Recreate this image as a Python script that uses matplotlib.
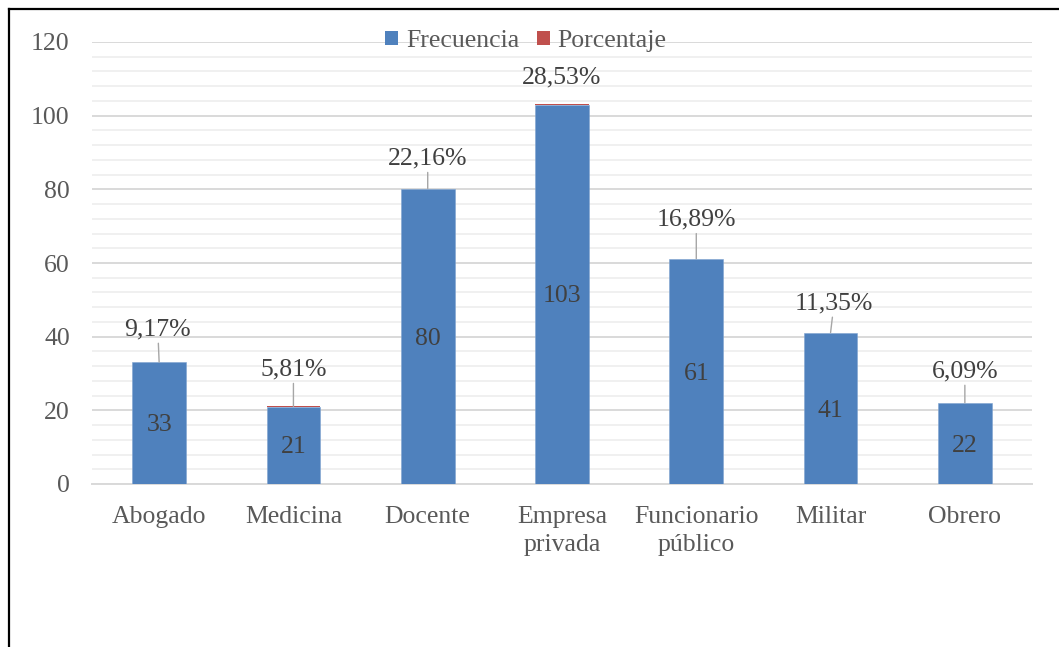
import matplotlib
matplotlib.use("Agg")
import matplotlib.pyplot as plt
from matplotlib.patches import Patch
from matplotlib.lines import Line2D
from matplotlib.ticker import MultipleLocator

# Occupations and their counts / shares
categories = ["Abogado", "Medicina", "Docente", "Empresa\nprivada",
              "Funcionario\npúblico", "Militar", "Obrero"]
frecuencia = [33, 21, 80, 103, 61, 41, 22]
porcentaje = [0.0917, 0.0581, 0.2216, 0.2853, 0.1689, 0.1135, 0.0609]

# Placement of the percentage callouts (points, relative to bar top)
callout_dx = [-1, 0, 0, 0, 0, 2.5, 0]
callout_dy = [23.5, 26.5, 21.5, 19, 28, 21, 22.5]
callout_leader = [True, True, True, False, True, True, True]

BLUE = "#4F81BD"
RED = "#C0504D"
TICK_COLOR = "#595959"
LABEL_COLOR = "#404040"
FONT = ["Liberation Serif", "DejaVu Serif"]
FS = 18.5

plt.rcParams["font.family"] = FONT

W, H, DPI = 1059, 647, 100
fig = plt.figure(figsize=(W / DPI, H / DPI), dpi=DPI)
ax = fig.add_axes([92 / W, 1 - 484 / H, (1032 - 92) / W, (484 - 42) / H])

x = list(range(len(categories)))
bars_f = ax.bar(x, frecuencia, width=0.40, color=BLUE, zorder=3,
                edgecolor="#7FA3D0", linewidth=0.4)
bars_p = ax.bar(x, porcentaje, width=0.40, bottom=frecuencia, color=RED,
                zorder=3, linewidth=0)

# Counts centred inside the blue bars
for i, f in enumerate(frecuencia):
    ax.annotate(str(f), xy=(i, f / 2), xytext=(0, -1.5),
                textcoords="offset points", ha="center", va="center",
                color=LABEL_COLOR, fontsize=FS, family=FONT, zorder=4)

# Percentage callouts with leader lines
for i, (f, p) in enumerate(zip(frecuencia, porcentaje)):
    txt = f"{p * 100:.2f}%".replace(".", ",")
    top = f + p
    arrow = dict(arrowstyle="-", color="#A6A6A6", lw=1.0,
                 shrinkA=0, shrinkB=0) if callout_leader[i] else None
    ax.annotate(txt, xy=(i, top), xytext=(callout_dx[i], callout_dy[i]),
                textcoords="offset points", ha="center", va="center",
                color=LABEL_COLOR, fontsize=FS, family=FONT,
                arrowprops=arrow, zorder=4)

ax.set_xlim(-0.5, len(categories) - 0.5)
ax.set_ylim(0, 120)
ax.yaxis.set_major_locator(MultipleLocator(20))
ax.yaxis.set_minor_locator(MultipleLocator(4))
ax.grid(axis="y", which="major", color="#D9D9D9", lw=1.4, zorder=0)
ax.grid(axis="y", which="minor", color="#F0F0F0", lw=1.4, zorder=0)

for s in ["left", "right", "top"]:
    ax.spines[s].set_visible(False)
ax.spines["bottom"].set_color("#D9D9D9")
ax.spines["bottom"].set_linewidth(1.4)
ax.spines["bottom"].set_zorder(2)

ax.set_xticks(x)
ax.set_xticklabels(categories, linespacing=1.38)
ax.tick_params(axis="x", length=0, pad=15.5, labelsize=FS, colors=TICK_COLOR)
ax.tick_params(axis="y", which="both", length=0, pad=16, labelsize=FS,
               colors=TICK_COLOR)

handles = [Patch(facecolor=BLUE, edgecolor="none"),
           Patch(facecolor=RED, edgecolor="none")]
fig.legend(handles, ["Frecuencia", "Porcentaje"], loc="center",
           bbox_to_anchor=(526 / W, 1 - 41 / H), ncol=2, frameon=False,
           fontsize=FS, handlelength=0.5, handleheight=0.5,
           handletextpad=0.3, columnspacing=0.7, labelcolor=TICK_COLOR,
           prop={"family": FONT, "size": FS})

# Outer frame: left and top edges
fig.add_artist(Line2D([8.5 / W, 8.5 / W], [0, 1 - 8.5 / H], color="black",
                      lw=1.6, transform=fig.transFigure))
fig.add_artist(Line2D([8.5 / W, 1], [1 - 8.5 / H, 1 - 8.5 / H], color="black",
                      lw=1.6, transform=fig.transFigure))

fig.savefig("out.png", dpi=DPI, facecolor="white")
